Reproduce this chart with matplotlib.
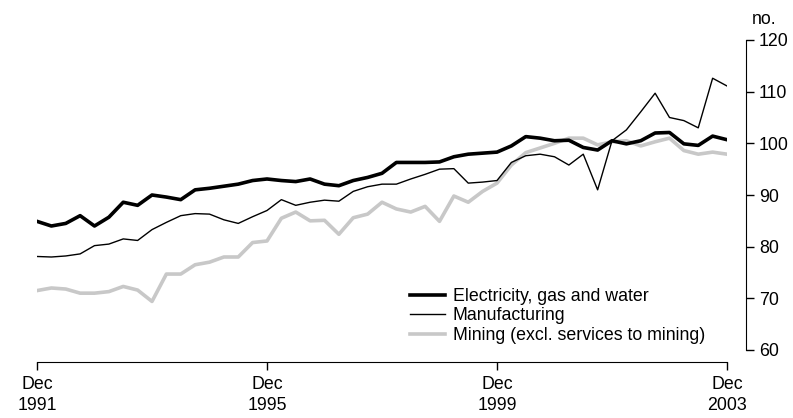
import numpy as np
import matplotlib
matplotlib.use('Agg')
import matplotlib.pyplot as plt

# quarterly, Dec 1991 .. Dec 2003
electricity = [84.9, 84.0, 84.5, 86.0, 84.0, 85.7, 88.6, 88.0, 90.0, 89.6,
               89.1, 91.0, 91.3, 91.7, 92.1, 92.8, 93.1, 92.8, 92.6, 93.1,
               92.1, 91.8, 92.8, 93.4, 94.2, 96.3, 96.3, 96.3, 96.4, 97.4,
               97.9, 98.1, 98.3, 99.5, 101.3, 101.0, 100.5, 100.6, 99.2, 98.7,
               100.5, 99.9, 100.5, 102.0, 102.1, 99.9, 99.6, 101.4, 100.7]
manufacturing = [78.1, 78.0, 78.2, 78.6, 80.2, 80.5, 81.5, 81.2, 83.3, 84.7,
                 86.0, 86.4, 86.3, 85.2, 84.5, 85.8, 87.0, 89.1, 88.0, 88.6,
                 89.0, 88.8, 90.7, 91.6, 92.1, 92.1, 93.1, 94.0, 95.0, 95.1,
                 92.3, 92.5, 92.8, 96.3, 97.6, 97.9, 97.4, 95.8, 97.9, 91.0,
                 100.5, 102.6, 106.1, 109.7, 105.0, 104.4, 103.0, 112.6, 111.1]
mining = [71.5, 72.0, 71.8, 71.0, 71.0, 71.3, 72.3, 71.6, 69.4, 74.7,
          74.7, 76.5, 77.0, 78.0, 78.0, 80.8, 81.1, 85.5, 86.7, 85.0,
          85.1, 82.4, 85.6, 86.3, 88.6, 87.3, 86.7, 87.8, 84.9, 89.8,
          88.6, 90.7, 92.3, 95.8, 98.2, 99.1, 100.0, 101.0, 101.0, 99.7,
          100.3, 100.5, 99.5, 100.3, 101.0, 98.6, 97.9, 98.3, 97.9]
tick_pos = [0, 16, 32, 48]
tick_labels = ['Dec\n1991', 'Dec\n1995', 'Dec\n1999', 'Dec\n2003']
y_ticks = [60, 70, 80, 90, 100, 110, 120]

plt.rcParams['font.family'] = ['Liberation Sans', 'DejaVu Sans']
plt.rcParams['font.size'] = 12.8

W, H = 793, 418
fig = plt.figure(figsize=(W / 100, H / 100), dpi=100)
ax = fig.add_axes([37 / W, (H - 362) / H, (727 - 37) / W, (362 - 40) / H])

x = np.arange(len(electricity))
ax.plot(x, mining, color='#c8c8c8', linewidth=2.6, label='Mining (excl. services to mining)', zorder=2)
ax.plot(x, manufacturing, color='black', linewidth=1.0, label='Manufacturing', zorder=3)
ax.plot(x, electricity, color='black', linewidth=2.6, label='Electricity, gas and water', zorder=4)

ax.set_xlim(0, 48)
ax.set_ylim(60 - 12 / (310 / 60), 120)

ax.spines['top'].set_visible(False)
ax.spines['left'].set_visible(False)
ax.spines['right'].set_position(('outward', 14))
ax.spines['right'].set_bounds(60, 120)
ax.spines['bottom'].set_bounds(0, 48)

ax.yaxis.tick_right()
ax.set_yticks(y_ticks)
ax.tick_params(axis='y', direction='out', length=6, width=1, pad=3)
ax.set_xticks(tick_pos)
ax.set_xticklabels(tick_labels, linespacing=1.3)
ax.tick_params(axis='x', direction='out', length=6, width=1, pad=4)

fig.text(752 / W, (H - 20) / H, 'no.', ha='left', va='center')

handles, labels = ax.get_legend_handles_labels()
order = [2, 1, 0]
ax.legend([handles[i] for i in order], [labels[i] for i in order],
          loc='upper left', bbox_to_anchor=(401 / W, (H - 279) / H),
          bbox_transform=fig.transFigure, frameon=False,
          handlelength=2.0, handletextpad=0.4, labelspacing=0.14,
          borderpad=0)

fig.savefig('out.png', dpi=100)
